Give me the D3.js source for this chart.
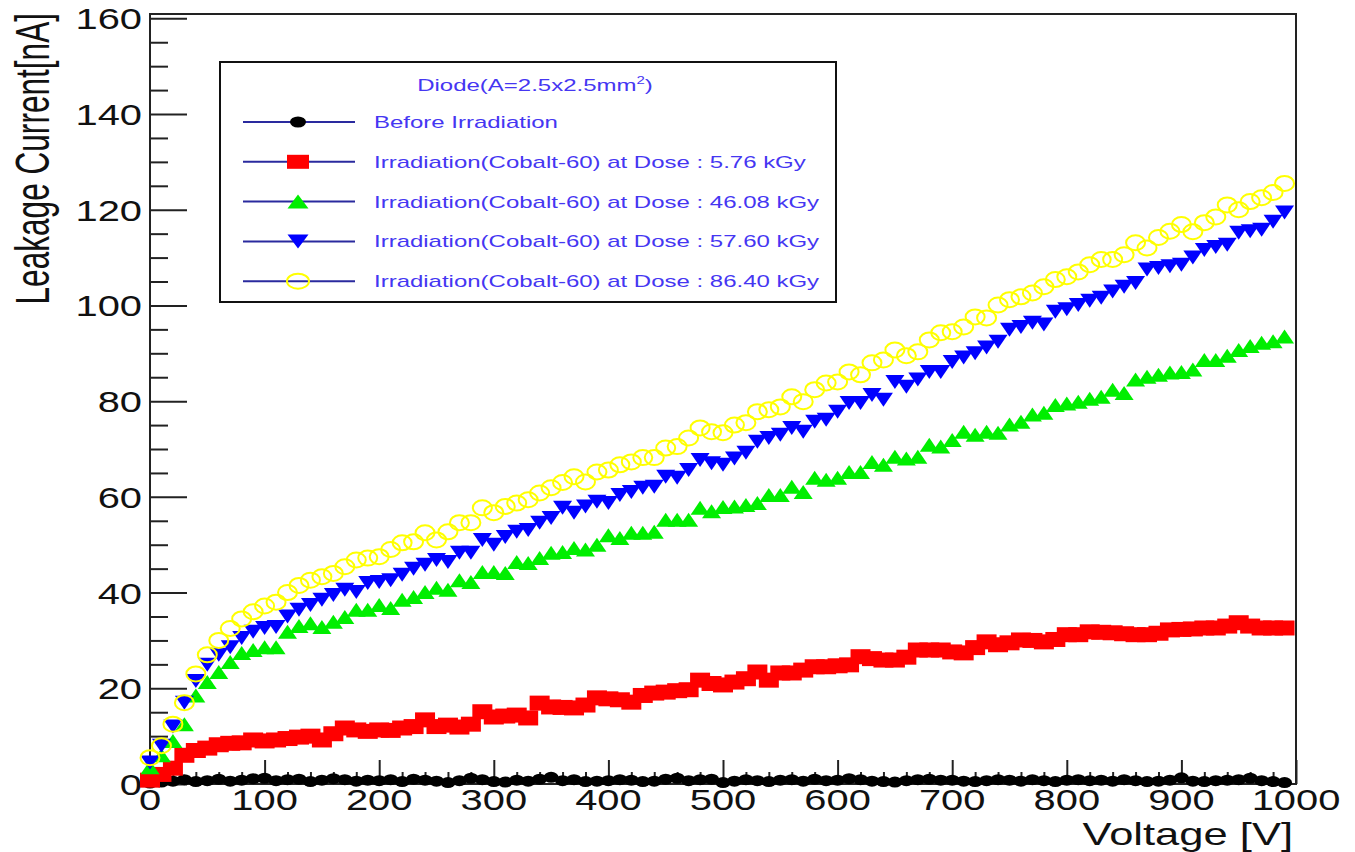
<!DOCTYPE html>
<html>
<head>
<meta charset="utf-8">
<script src="https://cdn.jsdelivr.net/npm/d3@7"></script>
<style>
  html, body { margin: 0; padding: 0; background: #ffffff; }
  svg { display: block; }
  text { font-family: "Liberation Sans", Arial, Helvetica, sans-serif; }
</style>
</head>
<body>
<svg id="chart" width="1355" height="852"></svg>
<script>
// Reverse bias voltage [V]
const voltage = [
  0, 10, 20, 30, 40, 50, 60, 70, 80, 90,
  100, 110, 120, 130, 140, 150, 160, 170, 180, 190,
  200, 210, 220, 230, 240, 250, 260, 270, 280, 290,
  300, 310, 320, 330, 340, 350, 360, 370, 380, 390,
  400, 410, 420, 430, 440, 450, 460, 470, 480, 490,
  500, 510, 520, 530, 540, 550, 560, 570, 580, 590,
  600, 610, 620, 630, 640, 650, 660, 670, 680, 690,
  700, 710, 720, 730, 740, 750, 760, 770, 780, 790,
  800, 810, 820, 830, 840, 850, 860, 870, 880, 890,
  900, 910, 920, 930, 940, 950, 960, 970, 980, 990
];

// Leakage current [nA] for each irradiation state
const beforeIrradiation = [
  0.2, 0.4, 0.6, 0.9, 0.5, 0.7, 1.0, 0.6, 0.8, 1.1,
  1.2, 0.7, 0.9, 1.0, 0.5, 0.8, 1.1, 0.9, 0.6, 0.8,
  0.7, 0.9, 0.5, 1.0, 0.8, 0.6, 0.3, 0.7, 1.2, 0.9,
  0.5, 0.4, 0.8, 0.6, 1.0, 1.4, 0.7, 0.9, 0.5, 0.6,
  0.7, 0.9, 0.8, 0.5, 0.6, 1.0, 1.2, 0.7, 0.9, 1.0,
  0.3, 0.6, 0.9, 0.7, 0.5, 0.8, 0.9, 0.6, 1.0, 0.7,
  0.8, 1.1, 0.9, 0.6, 0.5, 0.4, 0.7, 0.9, 1.0, 0.8,
  0.8, 0.6, 0.5, 0.7, 0.9, 0.8, 0.6, 0.9, 0.7, 0.5,
  0.8, 0.9, 0.7, 0.8, 0.6, 0.9, 0.7, 0.5, 0.6, 0.8,
  1.3, 0.6, 0.5, 0.7, 0.8, 0.9, 1.2, 0.7, 0.5, 0.3
];
const dose576 = [
  0.8, 2, 3.3, 6, 7, 7.5, 8.2, 8.5, 8.6, 9.2,
  9, 9.2, 9.5, 9.8, 10, 9.2, 10.5, 11.7, 11.3, 11,
  11.3, 11.2, 11.7, 12, 13.4, 12, 12.3, 11.9, 12.5, 15.1,
  14, 14.2, 14.4, 13.8, 16.9, 16.1, 16, 15.9, 16.5, 18,
  17.8, 17.6, 17.1, 18.5, 19, 19.2, 19.5, 19.7, 21.7, 21,
  20.7, 21.3, 22, 23.4, 21.7, 23.2, 23.2, 23.8, 24.5, 24.5,
  24.7, 24.9, 26.6, 26.2, 25.9, 25.9, 26.5, 28, 28, 28,
  27.6, 27.4, 28.5, 29.7, 29.1, 29.5, 30.1, 30, 29.7, 30.2,
  31.2, 31.2, 31.8, 31.7, 31.6, 31.4, 31.2, 31.2, 31.5, 32.2,
  32.3, 32.4, 32.6, 32.6, 33, 33.7, 33, 32.6, 32.6, 32.6
];
const dose4608 = [
  3.5, 6, 9, 12.5, 18.5, 21.3, 23.4, 25.5, 27.4, 28,
  28.6, 28.6, 31.8, 33, 33.6, 32.8, 33.9, 34.9, 36.4, 36.4,
  37.4, 36.8, 38.5, 39.1, 40.1, 41, 40.6, 42.6, 42.2, 44.3,
  44.3, 44.1, 46.4, 46.2, 47.2, 48.3, 48.5, 49.3, 49, 50,
  52, 51.4, 52.5, 52.5, 52.7, 55.2, 55.2, 55.2, 57.7, 57,
  57.9, 58, 58.3, 58.7, 60.4, 60.4, 62.1, 61, 64, 63.6,
  64, 65.2, 65.2, 67.3, 66.7, 68.4, 68, 68.4, 70.9, 70.5,
  71.9, 73.6, 73, 73.6, 73.4, 75.1, 75.7, 77.2, 77.6, 79.2,
  79.5, 79.9, 80.5, 80.9, 82.4, 81.7, 84.5, 85.1, 85.5, 86,
  86.1, 86.6, 88.6, 88.6, 89.5, 90.7, 91.5, 92.2, 92.5, 93.5
];
const dose5760 = [
  4.5, 8, 12, 17, 21.5, 24.9, 27, 28.6, 30.5, 31.8,
  32.6, 32.8, 35, 36.4, 37.4, 38.5, 39.5, 40.6, 40.1, 42,
  42.2, 42.6, 43.7, 45, 45.8, 46.8, 46.4, 48.3, 48.3, 51,
  50, 51.6, 52.7, 53.1, 54.6, 55.6, 57.7, 56.7, 58, 59,
  58.7, 60.4, 61, 61.9, 62.1, 64.2, 64, 65.6, 67.7, 67,
  66.7, 68, 69.2, 71.5, 72.3, 73, 74.4, 73.6, 75.7, 76.1,
  77.8, 79.6, 79.6, 81.3, 80.3, 84, 83, 84.5, 86.1, 86.1,
  88.2, 89.1, 90, 91.2, 92.4, 94.9, 95.5, 96.4, 96, 98.7,
  99.2, 100.1, 101, 101.6, 102.9, 103.9, 104.7, 107.5, 107.8, 108.2,
  108.5, 110, 111.6, 112.2, 112.7, 115.2, 115.5, 115.8, 117.5, 119.4
];
const dose8640 = [
  5.5, 8, 12.5, 17, 23, 27, 30, 32.5, 34.5, 36,
  37.2, 38, 40, 41.5, 42.6, 43.3, 44, 45.4, 46.8, 47.2,
  47.5, 49, 50.4, 50.6, 52.5, 51, 52.7, 54.6, 54.6, 57.7,
  56.7, 58, 58.7, 59.4, 60.8, 61.9, 63, 64.2, 63.1, 65.2,
  65.6, 66.7, 67.3, 68.2, 68.2, 70.2, 70.5, 72.3, 74.4, 73.6,
  73.4, 75, 75.5, 77.8, 78.2, 78.8, 80.9, 79.9, 82.4, 83.8,
  84, 86.1, 85.5, 88, 88.6, 90.7, 89.5, 90.3, 92.8, 94.3,
  94.5, 95.5, 97.6, 97.4, 100.1, 101.2, 101.8, 102.6, 103.9, 105.4,
  106, 107, 108.5, 109.6, 109.6, 110.6, 113.1, 112, 114.2, 115.5,
  116.9, 115.4, 117.3, 118.5, 121, 120, 121.7, 122.5, 123.6, 125.5
];

const seriesLabels = [
  "Before Irradiation",
  "Irradiation(Cobalt-60) at Dose : 5.76 kGy",
  "Irradiation(Cobalt-60) at Dose : 46.08 kGy",
  "Irradiation(Cobalt-60) at Dose : 57.60 kGy",
  "Irradiation(Cobalt-60) at Dose : 86.40 kGy"
];
const seriesValues = [beforeIrradiation, dose576, dose4608, dose5760, dose8640];
const seriesMarkers = ["dot", "square", "triUp", "triDown", "ring"];
const seriesColors = ["#000000", "#ff0000", "#00ee00", "#0000ff", "#ffff00"];

const xTickValues = [0, 100, 200, 300, 400, 500, 600, 700, 800, 900, 1000];
const yTickValues = [0, 20, 40, 60, 80, 100, 120, 140, 160];
const legendTitle = "Diode(A=2.5x2.5mm";

// ---------------------------------------------------------------------------
const svg = d3.select("#chart");
svg.append("rect").attr("width", 1355).attr("height", 852).attr("fill", "#fff");

const x = d3.scaleLinear().domain([0, 1000]).range([150, 1296]);
const y = d3.scaleLinear().domain([0, 160.9]).range([784, 14]);

const axisColor = "#222";

// minor / major ticks drawn inside the frame
const xMinor = d3.range(0, 1001, 20).filter(v => v % 100 !== 0);
const yMinor = d3.range(0, 161, 5).filter(v => v % 20 !== 0);

function styleAxis(g) {
  g.select(".domain").remove();
  g.selectAll("line").attr("stroke", axisColor).attr("stroke-width", 2);
  g.selectAll("text").remove();
}

svg.append("g").attr("transform", "translate(0,784)")
  .call(d3.axisBottom(x).tickValues(xTickValues).tickSize(-24).tickFormat(""))
  .call(styleAxis);
svg.append("g").attr("transform", "translate(0,784)")
  .call(d3.axisBottom(x).tickValues(xMinor).tickSize(-12).tickFormat(""))
  .call(styleAxis);
svg.append("g").attr("transform", "translate(150,0)")
  .call(d3.axisLeft(y).tickValues(yTickValues).tickSize(-37).tickFormat(""))
  .call(styleAxis);
svg.append("g").attr("transform", "translate(150,0)")
  .call(d3.axisLeft(y).tickValues(yMinor).tickSize(-18).tickFormat(""))
  .call(styleAxis);

// frame
svg.append("rect")
  .attr("x", x(0)).attr("y", y.range()[1])
  .attr("width", x(1000) - x(0)).attr("height", y.range()[0] - y.range()[1])
  .attr("fill", "none").attr("stroke", axisColor).attr("stroke-width", 2);

// tick labels (wide glyphs)
svg.append("g").selectAll("text").data(xTickValues).join("text")
  .attr("transform", d => `translate(${x(d)},810) scale(1.33,1)`)
  .attr("text-anchor", "middle").attr("font-size", 30).attr("fill", "#111")
  .text(d => d);
svg.append("g").selectAll("text").data(yTickValues).join("text")
  .attr("transform", d => `translate(142,${y(d) + 11}) scale(1.33,1)`)
  .attr("text-anchor", "end").attr("font-size", 30).attr("fill", "#111")
  .text(d => d);

// axis titles
svg.append("text")
  .attr("transform", "translate(1293,845) scale(1.36,1)")
  .attr("text-anchor", "end").attr("font-size", 32).attr("fill", "#111")
  .text("Voltage [V]");
svg.append("text")
  .attr("transform", "translate(49,13) scale(1.5,1) rotate(-90)")
  .attr("text-anchor", "end").attr("font-size", 31.6).attr("fill", "#111")
  .text("Leakage Current[nA]");

// marker shapes (w/h are full width and height)
function drawMarker(sel, kind, color, w, h) {
  if (kind === "dot") {
    sel.append("ellipse").attr("rx", w / 2).attr("ry", h / 2).attr("fill", color);
  } else if (kind === "square") {
    sel.append("rect").attr("x", -w / 2).attr("y", -h / 2).attr("width", w).attr("height", h).attr("fill", color);
  } else if (kind === "triUp") {
    sel.append("path").attr("d", `M${-w / 2},${h / 2}L${w / 2},${h / 2}L0,${-h / 2}Z`).attr("fill", color);
  } else if (kind === "triDown") {
    sel.append("path").attr("d", `M${-w / 2},${-h / 2}L${w / 2},${-h / 2}L0,${h / 2}Z`).attr("fill", color);
  } else if (kind === "ring") {
    sel.append("ellipse").attr("rx", w / 2).attr("ry", h / 2)
      .attr("fill", "none").attr("stroke", color).attr("stroke-width", 2);
  }
}
const dataSize = {dot: [15, 11], square: [20, 15], triUp: [19, 14], triDown: [19, 14], ring: [19, 15]};
const legendSize = {dot: [16, 11], square: [22, 14], triUp: [21, 14], triDown: [21, 14], ring: [22, 15]};

// data points
const plot = svg.append("g");
seriesValues.forEach((vals, i) => {
  const kind = seriesMarkers[i];
  const [w, h] = dataSize[kind];
  plot.append("g").selectAll("g").data(vals.map((v, j) => [voltage[j], v])).join("g")
    .attr("transform", d => `translate(${x(d[0])},${y(d[1])})`)
    .each(function () { drawMarker(d3.select(this), kind, seriesColors[i], w, h); });
});

// legend
const leg = svg.append("g");
leg.append("rect").attr("x", 220).attr("y", 62).attr("width", 616).attr("height", 240)
  .attr("fill", "#fff").attr("stroke", "#111").attr("stroke-width", 2);
const legText = "#4536f2";
const title = leg.append("text")
  .attr("transform", "translate(535,91) scale(1.5,1)")
  .attr("text-anchor", "middle").attr("font-size", 16).attr("fill", legText);
title.append("tspan").text(legendTitle);
title.append("tspan").attr("font-size", 10).attr("dy", -7).text("2");
title.append("tspan").attr("dy", 7).text(")");

seriesLabels.forEach((lab, i) => {
  const cy = 122 + i * 39.8;
  leg.append("line").attr("x1", 243).attr("x2", 355).attr("y1", cy).attr("y2", cy)
    .attr("stroke", "#2a2a9e").attr("stroke-width", 2);
  const kind = seriesMarkers[i];
  const [w, h] = legendSize[kind];
  const m = leg.append("g").attr("transform", `translate(298,${cy})`);
  drawMarker(m, kind, seriesColors[i], w, h);
  leg.append("text")
    .attr("transform", `translate(374,${cy + 6}) scale(1.5,1)`)
    .attr("font-size", 16).attr("fill", legText)
    .text(lab);
});
</script>
</body>
</html>
